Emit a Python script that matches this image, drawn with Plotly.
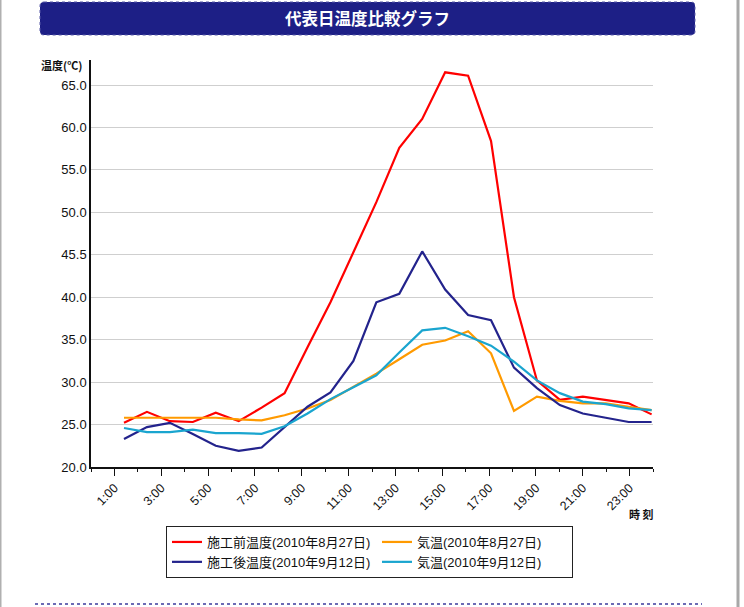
import plotly.graph_objects as go

# ---------------- data ----------------
hours = list(range(1, 25))
before_827 = [25.2, 26.5, 25.4, 25.3, 26.4, 25.4, 27.0, 28.7, 34.1, 39.4, 45.3, 51.2,
              57.6, 61.0, 66.5, 66.1, 58.4, 40.0, 30.2, 27.9, 28.3, 27.9, 27.5, 26.2]
after_912 = [23.3, 24.7, 25.2, 23.9, 22.5, 21.9, 22.3, 24.7, 27.1, 28.8, 32.5, 39.4,
             40.4, 45.4, 40.9, 37.9, 37.3, 31.7, 29.3, 27.3, 26.3, 25.8, 25.3, 25.3]
air_827 = [25.8, 25.8, 25.8, 25.8, 25.8, 25.6, 25.5, 26.1, 26.9, 27.9, 29.4, 31.0,
           32.7, 34.4, 34.9, 36.0, 33.4, 26.6, 28.3, 27.8, 27.5, 27.5, 27.1, 26.7]
air_912 = [24.6, 24.1, 24.1, 24.4, 24.0, 24.0, 23.9, 24.8, 26.3, 28.0, 29.4, 30.8,
           33.5, 36.1, 36.4, 35.4, 34.3, 32.4, 30.2, 28.7, 27.7, 27.4, 26.9, 26.7]

series_names = ["施工前温度(2010年8月27日)", "気温(2010年8月27日)",
                "施工後温度(2010年9月12日)", "気温(2010年9月12日)"]
x_tick_labels = ["1:00", "3:00", "5:00", "7:00", "9:00", "11:00",
                 "13:00", "15:00", "17:00", "19:00", "21:00", "23:00"]
y_tick_vals = [20, 25, 30, 35, 40, 45, 50, 55, 60, 65]
y_tick_labels = ["20.0", "25.0", "30.0", "35.0", "40.0", "45.5",
                 "50.0", "55.0", "60.0", "65.0"]

# ---------------- layout geometry ----------------
W, H = 744, 607
ML, MR, MT, MB = 91, 91, 60, 140
PW, PH = W - ML - MR, H - MT - MB

X_RANGE = [-0.4385, 24.06]
Y_RANGE = [20, 67.95]
slot = (X_RANGE[1] - X_RANGE[0]) / 24
major_ticks = [X_RANGE[0] + k * slot for k in range(1, 24, 2)]
minor_ticks = [X_RANGE[0] + k * slot for k in range(0, 25, 2)]


def px(x):
    return (x - ML) / PW


def py(y):
    return (H - MB - y) / PH


colors = ["#ff0000", "#ff9a00", "#23238c", "#1aa5cf"]
data = [before_827, air_827, after_912, air_912]
legend_widths = [165, 150, 165, 150]

fig = go.Figure()
for name, vals, c, lw in zip(series_names, data, colors, legend_widths):
    fig.add_trace(go.Scatter(x=hours, y=vals, name=name, mode="lines",
                             legendwidth=lw,
                             line=dict(color=c, width=2.2)))

FONT = "Liberation Sans, Noto Sans CJK JP, sans-serif"
JFONT = "Noto Sans CJK JP, sans-serif"

# banner rounded rect path
bx0, by0, bx1, by1, r = 40, 2, 695, 35, 4
pts = [
    ("M", bx0 + r, by0), ("L", bx1 - r, by0), ("Q", bx1, by0, bx1, by0 + r),
    ("L", bx1, by1 - r), ("Q", bx1, by1, bx1 - r, by1), ("L", bx0 + r, by1),
    ("Q", bx0, by1, bx0, by1 - r), ("L", bx0, by0 + r), ("Q", bx0, by0, bx0 + r, by0),
]
path = ""
for p in pts:
    cmd = p[0]
    coords = p[1:]
    s = []
    for i in range(0, len(coords), 2):
        s.append(f"{px(coords[i]):.5f},{py(coords[i+1]):.5f}")
    path += cmd + " ".join(s) + " "
path += "Z"

shapes = [
    dict(type="path", xref="paper", yref="paper", path=path,
         fillcolor="#1d1f86", line=dict(color="#5a5ca8", width=1, dash="dot"), layer="below"),
    dict(type="line", xref="paper", yref="paper", x0=px(35), x1=px(702), y0=py(604), y1=py(604),
         line=dict(color="#6b6bb5", width=2, dash="dot")),
    dict(type="line", xref="paper", yref="paper", x0=px(738), x1=px(738), y0=py(0), y1=py(607),
         line=dict(color="#a8a8a8", width=3)),
    dict(type="line", xref="paper", yref="paper", x0=px(0.5), x1=px(0.5), y0=py(0), y1=py(607),
         line=dict(color="#b0b0b0", width=2)),
]

annotations = [
    dict(text="<b>代表日温度比較グラフ</b>", xref="paper", yref="paper", x=px(367), y=py(18),
         showarrow=False, xanchor="center", yanchor="middle",
         font=dict(family=JFONT, size=16.5, color="white")),
    dict(text="<b>温度(℃)</b>", xref="paper", yref="paper", x=px(84), y=py(65),
         showarrow=False, xanchor="right", yanchor="middle",
         font=dict(family=JFONT, size=11, color="#111")),
    dict(text="<b>時 刻</b>", xref="paper", yref="paper", x=px(656), y=py(514),
         showarrow=False, xanchor="right", yanchor="middle",
         font=dict(family=JFONT, size=11, color="#111")),
]

fig.update_layout(
    width=W, height=H,
    margin=dict(l=ML, r=MR, t=MT, b=MB, pad=0),
    paper_bgcolor="white", plot_bgcolor="white",
    font=dict(family=FONT, color="#111"),
    showlegend=True,
    legend=dict(orientation="h", x=px(166), y=py(526), xanchor="left", yanchor="top",
                bordercolor="#222", borderwidth=1, bgcolor="white",
                entrywidthmode="pixels", tracegroupgap=0,
                font=dict(family=FONT, size=13, color="#111")),
    xaxis=dict(range=X_RANGE, showgrid=False, zeroline=False,
               showline=True, linecolor="#111", linewidth=1.5,
               tickmode="array", tickvals=major_ticks, ticktext=x_tick_labels,
               ticks="outside", ticklen=7, tickwidth=1.2, tickcolor="#111",
               tickangle=-45, tickfont=dict(family=FONT, size=12.5, color="#111"),
               minor=dict(tickmode="array", tickvals=minor_ticks, ticks="outside",
                          ticklen=3, tickwidth=1, tickcolor="#111", showgrid=False)),
    yaxis=dict(range=Y_RANGE, showgrid=True, gridcolor="#cfcfcf", gridwidth=1,
               zeroline=False, showline=True, linecolor="#111", linewidth=1.5,
               tickmode="array", tickvals=y_tick_vals, ticktext=y_tick_labels,
               ticks="", tickfont=dict(family=FONT, size=13, color="#111")),
    shapes=shapes,
    annotations=annotations,
)

fig.write_html("out.html", config={"displayModeBar": False},
               post_script="document.body.style.margin='0';document.body.style.overflow='hidden';")
